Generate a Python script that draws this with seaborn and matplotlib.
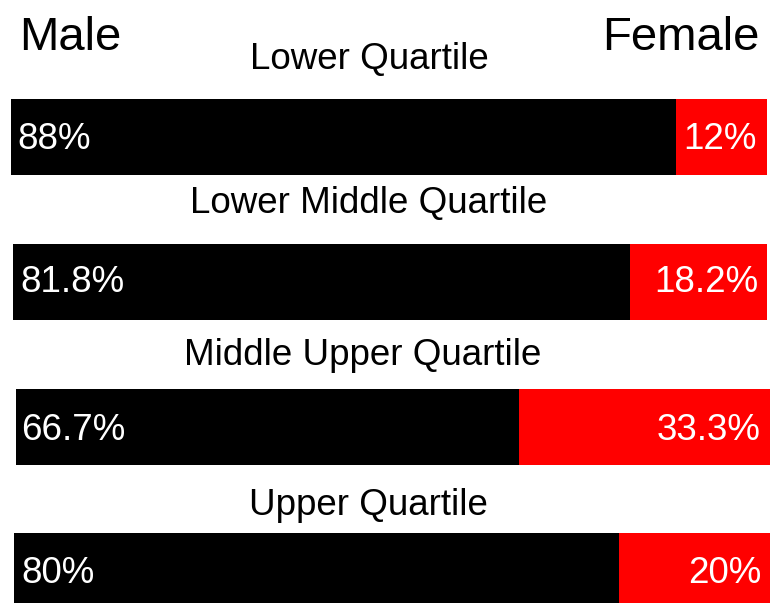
import matplotlib
matplotlib.use("Agg")
import matplotlib.pyplot as plt
import seaborn as sns
import pandas as pd

sns.set_theme(style="white")
plt.rcParams['font.family'] = ['Liberation Sans', 'DejaVu Sans']
plt.rcParams['text.color'] = 'black'

categories = ["Lower Quartile", "Lower Middle Quartile", "Middle Upper Quartile", "Upper Quartile"]
male = [88, 81.8, 66.7, 80]
female = [12, 18.2, 33.3, 20]
male_labels = ["88%", "81.8%", "66.7%", "80%"]
female_labels = ["12%", "18.2%", "33.3%", "20%"]

W, H = 770, 603
fig = plt.figure(figsize=(W / 100, H / 100), dpi=100)

# bar boxes in pixels: left, top, right, bottom
boxes = [(11, 99, 767, 175), (13, 244, 767, 320), (16, 389, 770, 465), (14, 533, 770, 609)]
title_base = [69, 213, 365, 515]
title_x = [369, 368.5, 363, 368]
pct_base = [149, 292, 440, 583]
male_lx = [17.5, 20.5, 21.5, 21.5]
female_rx = [757, 758, 761, 761]

for i, cat in enumerate(categories):
    l, t, r, b = boxes[i]
    ax = fig.add_axes([l / W, 1 - b / H, (r - l) / W, (b - t) / H])
    df = pd.DataFrame({"cat": [cat], "total": [male[i] + female[i]], "male": [male[i]]})
    sns.barplot(data=df, x="total", y="cat", color="#ff0000", orient="h", width=1,
                saturation=1, linewidth=0, ax=ax)
    sns.barplot(data=df, x="male", y="cat", color="#000000", orient="h", width=1,
                saturation=1, linewidth=0, ax=ax)
    ax.set_xlim(0, male[i] + female[i])
    ax.set_ylim(0.5, -0.5)
    ax.axis("off")
    fig.text(male_lx[i] / W, 1 - pct_base[i] / H, male_labels[i], color="white",
             fontsize=26.5, ha="left", va="baseline")
    fig.text(female_rx[i] / W, 1 - pct_base[i] / H, female_labels[i], color="white",
             fontsize=26.5, ha="right", va="baseline")
    fig.text(title_x[i] / W, 1 - title_base[i] / H, cat, fontsize=26.5, color="black",
             ha="center", va="baseline")

fig.text(19 / W, 1 - 50 / H, "Male", fontsize=34, color="black", ha="left", va="baseline")
fig.text(760 / W, 1 - 50 / H, "Female", fontsize=34, color="black", ha="right", va="baseline")

fig.savefig("out.png", dpi=100)
